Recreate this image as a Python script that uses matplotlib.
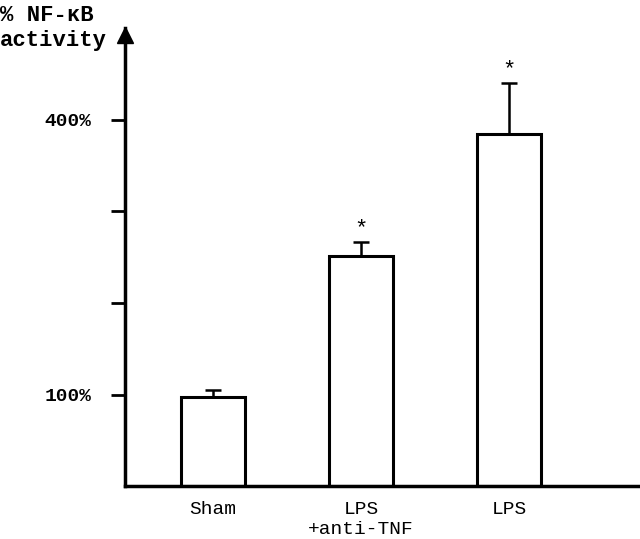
import matplotlib.pyplot as plt

groups = ["Sham", "LPS\n+anti-TNF", "LPS"]
activity = [97, 251, 384]
sem = [8, 16, 56]
signif = [False, True, True]
ytick_vals = [100, 200, 300, 400]
ytick_labels = ["100%", "", "", "400%"]

plt.rcParams["font.family"] = ["Liberation Mono", "DejaVu Sans Mono"]

fig = plt.figure(figsize=(6.4, 5.39), dpi=100)
ax = fig.add_axes([0.195, 0.098, 0.805, 0.85])

x = [1, 2, 3]
ax.bar(x, activity, width=0.43, color="white", edgecolor="black", lw=2.2,
       yerr=[[0] * 3, sem], capsize=6,
       error_kw=dict(elinewidth=1.8, capthick=1.8, ecolor="black"))
for xi, v, e, s in zip(x, activity, sem, signif):
    if s:
        ax.text(xi, v + e + 3, "*", ha="center", va="bottom", fontsize=16)

ax.set_xlim(0.405, 3.885)
ax.set_ylim(0, 500)
ax.set_xticks(x)
ax.set_xticklabels(groups, fontsize=14, linespacing=1.2, va="top")
ax.tick_params(axis="x", length=0, pad=11)
ax.set_yticks(ytick_vals)
ax.set_yticklabels(ytick_labels, fontsize=14, fontweight="bold")
ax.tick_params(axis="y", length=10, width=2, pad=14)

for side in ("top", "right"):
    ax.spines[side].set_visible(False)
for side in ("left", "bottom"):
    ax.spines[side].set_linewidth(2.5)

# arrow head on the y axis
ax.plot(0, 0.985, marker="^", color="black", ms=11, transform=ax.transAxes,
        clip_on=False)

fig.text(0.0, 0.99, "% NF-κB\nactivity", ha="left", va="top", fontsize=16,
         fontweight="bold", linespacing=1.2)

fig.savefig("out.png", dpi=100)
